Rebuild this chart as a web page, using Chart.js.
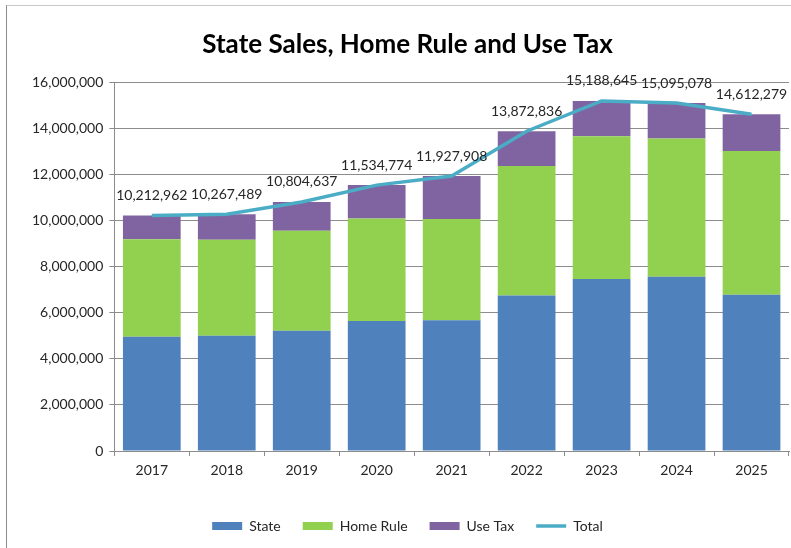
<!DOCTYPE html>
<html>
<head>
<meta charset="utf-8">
<script src="https://cdn.jsdelivr.net/npm/chart.js@4.4.1/dist/chart.umd.min.js"></script>
<style>
  html, body { margin: 0; padding: 0; background: #fff; }
  #frame { position: absolute; left: 6px; top: 5px; width: 800px; height: 560px;
           border-left: 1px solid #8c8c8c; border-top: 1px solid #c8c8c8; }
  #wrap { position: absolute; left: 0; top: 0; width: 791px; height: 548px; }
</style>
</head>
<body>
<div id="frame"></div>
<div id="wrap"><canvas id="taxChart" width="791" height="548"></canvas></div>
<script>
var years = ['2017', '2018', '2019', '2020', '2021', '2022', '2023', '2024', '2025'];
var stateTax = [4960000, 5000000, 5220000, 5640000, 5670000, 6750000, 7460000, 7560000, 6780000];
var homeRule = [4230000, 4160000, 4330000, 4450000, 4390000, 5610000, 6200000, 6000000, 6240000];
var useTax = [1022962, 1107489, 1254637, 1444774, 1867908, 1512836, 1528645, 1535078, 1592279];
var totals = [10212962, 10267489, 10804637, 11534774, 11927908, 13872836, 15188645, 15095078, 14612279];
var yTicks = [0, 2000000, 4000000, 6000000, 8000000, 10000000, 12000000, 14000000, 16000000];

var fontFam = 'Lato, "Open Sans", sans-serif';
var txtColor = '#262626';
var gridColor = '#8c8c8c';

function fmt(v) {
    return Number(v).toLocaleString('en-US');
}

// labels over the Total line
var totalLabels = {
    id: 'totalLabels',
    afterDatasetsDraw: function (chart) {
        var meta = chart.getDatasetMeta(3);
        var ctx = chart.ctx;
        ctx.save();
        ctx.font = '14px ' + fontFam;
        ctx.fillStyle = txtColor;
        ctx.textAlign = 'center';
        ctx.textBaseline = 'middle';
        meta.data.forEach(function (pt, i) {
            ctx.fillText(fmt(totals[i]), pt.x, pt.y - 20);
        });
        ctx.restore();
    }
};

var ctx = document.getElementById('taxChart');
var chart = new Chart(ctx, {
    data: {
        labels: years,
        datasets: [
            { type: 'bar', label: 'State', data: stateTax, backgroundColor: '#4f81bd', stack: 'tax', pointStyle: 'rect', order: 2 },
            { type: 'bar', label: 'Home Rule', data: homeRule, backgroundColor: '#92d050', stack: 'tax', pointStyle: 'rect', order: 2 },
            { type: 'bar', label: 'Use Tax', data: useTax, backgroundColor: '#8064a2', stack: 'tax', pointStyle: 'rect', order: 2 },
            {
                type: 'line', label: 'Total', data: totals, borderColor: '#4bacc6', backgroundColor: '#4bacc6',
                borderWidth: 3.5, pointRadius: 0, tension: 0, stack: 'total', pointStyle: 'line', order: 0
            }
        ]
    },
    options: {
        responsive: false,
        animation: false,
        layout: { padding: { left: 26, right: 2, top: 0, bottom: 5 } },
        datasets: { bar: { barPercentage: 0.77, categoryPercentage: 1 } },
        plugins: {
            title: {
                display: true,
                text: 'State Sales, Home Rule and Use Tax',
                color: '#000',
                font: { family: fontFam, size: 26, weight: 'bold' },
                padding: { top: 29, bottom: 22 }
            },
            legend: {
                position: 'bottom',
                labels: {
                    usePointStyle: true,
                    pointStyleWidth: 30,
                    boxHeight: 8,
                    padding: 22,
                    color: txtColor,
                    font: { family: fontFam, size: 14 },
                    sort: function (a, b) { return a.datasetIndex - b.datasetIndex; }
                }
            },
            tooltip: { enabled: false }
        },
        scales: {
            x: {
                stacked: true,
                grid: { drawOnChartArea: false, drawTicks: true, tickLength: 5, color: gridColor, offset: true },
                border: { color: gridColor },
                ticks: { color: txtColor, font: { family: fontFam, size: 14 }, padding: 6 },
                afterFit: function (s) { s.height = 46; }
            },
            y: {
                stacked: true,
                min: 0,
                max: 16000000,
                afterBuildTicks: function (s) { s.ticks = yTicks.map(function (v) { return { value: v }; }); },
                grid: { color: gridColor, tickLength: 5 },
                border: { color: gridColor },
                ticks: {
                    color: txtColor,
                    font: { family: fontFam, size: 14 },
                    padding: 6,
                    callback: function (v) { return fmt(v); }
                }
            }
        }
    },
    plugins: [totalLabels]
});
</script>
</body>
</html>
